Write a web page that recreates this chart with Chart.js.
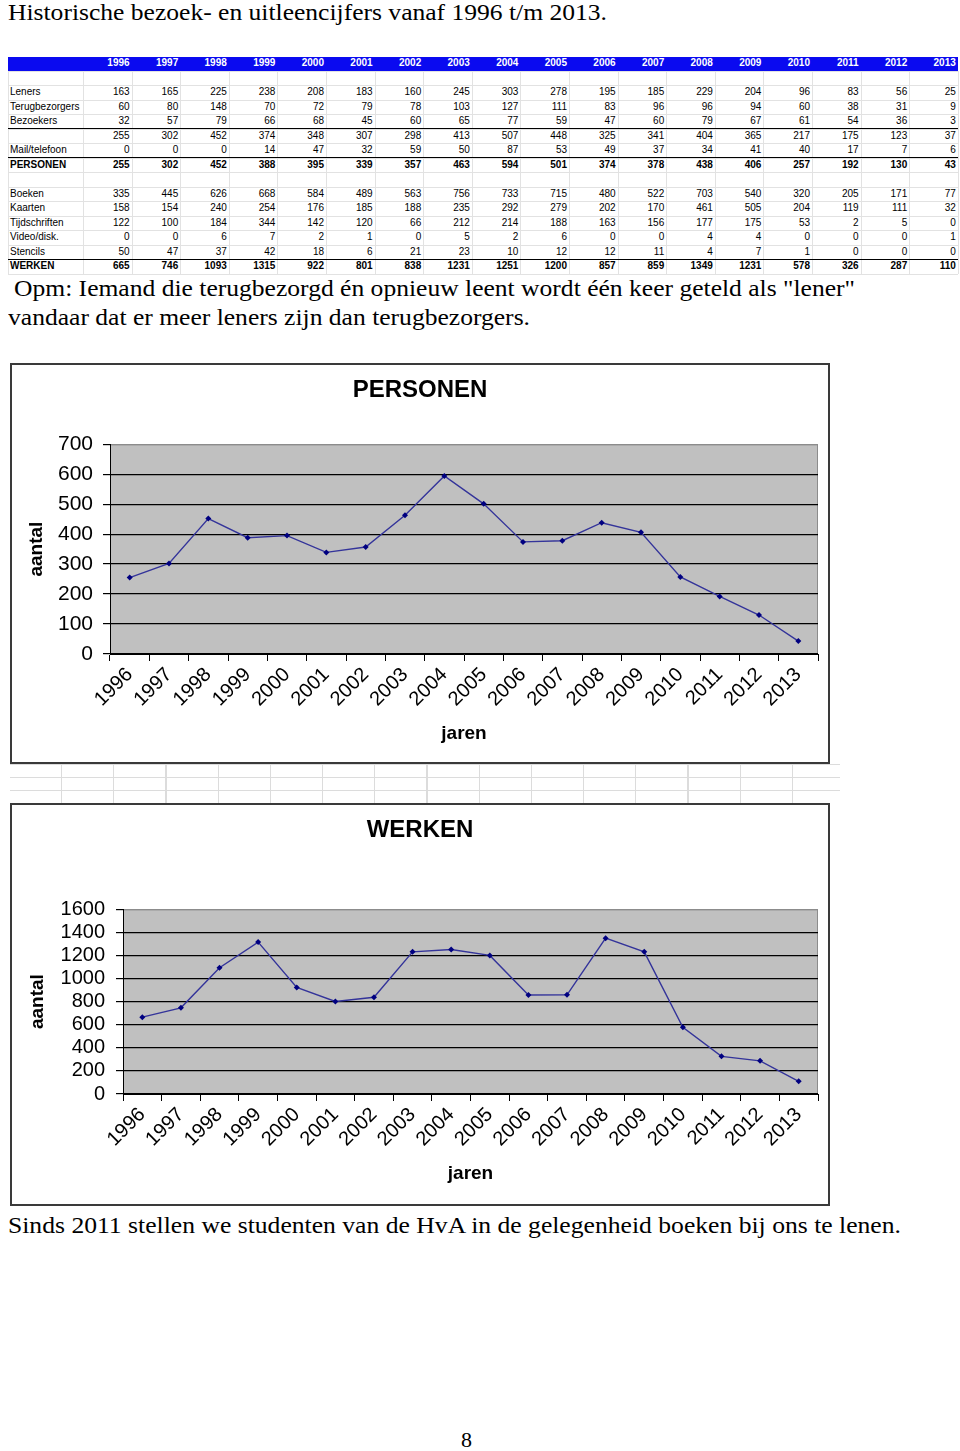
<!DOCTYPE html>
<html>
<head>
<meta charset="utf-8">
<script src="https://cdn.jsdelivr.net/npm/chart.js@4.4.1/dist/chart.umd.min.js"></script>
<style>
  body { margin: 0; width: 960px; height: 1451px; background: #fff; position: relative; overflow: hidden; }
  .serif { position: absolute; font-size: 24px; line-height: 1; white-space: nowrap; color: #000; transform-origin: 0 0; }
  .cell { position: absolute; font-size: 10px; line-height: 14.5px; height: 14.5px; white-space: nowrap; color: #000; }
  .box { position: absolute; border: 2px solid #3a3a3a; background: #fff; box-sizing: border-box; }
  #sheetGrid { position: absolute; left: 10px; top: 764px; width: 830px; height: 39px;
    background-image:
      repeating-linear-gradient(to right, transparent 0, transparent 51px, #dcdcdc 51px, #dcdcdc 52.2px),
      repeating-linear-gradient(to bottom, transparent 0, transparent 12px, #dcdcdc 12px, #dcdcdc 13px);
    background-position: 0 0, 0 1px; }
</style>
</head>
<body>
<div class="serif" style="left:8px;top:1px;font-size:23px" data-w="599">Historische bezoek- en uitleencijfers vanaf 1996 t/m 2013.</div>
<div id="table"></div>
<div class="serif" style="left:14px;top:276px" data-w="841">Opm: Iemand die terugbezorgd én opnieuw leent wordt één keer geteld als "lener"</div>
<div class="serif" style="left:8px;top:305px" data-w="522">vandaar dat er meer leners zijn dan terugbezorgers.</div>

<div id="sheetGrid"></div>
<div class="box" style="left:10px;top:363px;width:820px;height:401px"></div>
<canvas id="personenChart" width="806" height="397" style="position:absolute;left:22px;top:365px"></canvas>
<div class="box" style="left:10px;top:803px;width:820px;height:403px"></div>
<canvas id="werkenChart" width="806" height="399" style="position:absolute;left:22px;top:805px"></canvas>

<div class="serif" style="left:8px;top:1213px" data-w="893">Sinds 2011 stellen we studenten van de HvA in de gelegenheid boeken bij ons te lenen.</div>
<div class="serif" style="left:461px;top:1429px;font-size:22px">8</div>

<script>
// Jaren en cijfers uit de tabel
const years = ['1996','1997','1998','1999','2000','2001','2002','2003','2004','2005','2006','2007','2008','2009','2010','2011','2012','2013'];
const leners = [163,165,225,238,208,183,160,245,303,278,195,185,229,204,96,83,56,25];
const terugbezorgers = [60,80,148,70,72,79,78,103,127,111,83,96,96,94,60,38,31,9];
const bezoekers = [32,57,79,66,68,45,60,65,77,59,47,60,79,67,61,54,36,3];
const subtotaal = [255,302,452,374,348,307,298,413,507,448,325,341,404,365,217,175,123,37];
const mailTelefoon = [0,0,0,14,47,32,59,50,87,53,49,37,34,41,40,17,7,6];
const personen = [255,302,452,388,395,339,357,463,594,501,374,378,438,406,257,192,130,43];
const boeken = [335,445,626,668,584,489,563,756,733,715,480,522,703,540,320,205,171,77];
const kaarten = [158,154,240,254,176,185,188,235,292,279,202,170,461,505,204,119,111,32];
const tijdschriften = [122,100,184,344,142,120,66,212,214,188,163,156,177,175,53,2,5,0];
const videoDisk = [0,0,6,7,2,1,0,5,2,6,0,0,4,4,0,0,0,1];
const stencils = [50,47,37,42,18,6,21,23,10,12,12,11,4,7,1,0,0,0];
const werken = [665,746,1093,1315,922,801,838,1231,1251,1200,857,859,1349,1231,578,326,287,110];

const personenTicks = [0,100,200,300,400,500,600,700];
const werkenTicks = [0,200,400,600,800,1000,1200,1400,1600];

// pick the first installed font of a list
const pickFont = (names, generic) => {
    const ctx = document.createElement('canvas').getContext('2d');
    const probe = 'mmmmmmmmmmlliWWWwwii 1234567890';
    ctx.font = '40px monospace';
    const base = ctx.measureText(probe).width;
    for (const n of names) {
        ctx.font = `40px "${n}", monospace`;
        if (ctx.measureText(probe).width !== base) return `"${n}", ${generic}`;
    }
    return generic;
};
const serif = pickFont(['Liberation Serif', 'Times New Roman', 'Tinos', 'Nimbus Roman', 'Nimbus Roman No9 L'], 'serif');
const sans = pickFont(['Liberation Sans', 'Arial', 'Arimo', 'Helvetica', 'Nimbus Sans'], 'sans-serif');
document.querySelectorAll('.serif').forEach((el) => { el.style.fontFamily = serif; });

// Table rows: [label, values, bold]
const rows = [
    ['', years, true],
    ['', null, false],
    ['Leners', leners, false],
    ['Terugbezorgers', terugbezorgers, false],
    ['Bezoekers', bezoekers, false],
    ['', subtotaal, false],
    ['Mail/telefoon', mailTelefoon, false],
    ['PERSONEN', personen, true],
    ['', null, false],
    ['Boeken', boeken, false],
    ['Kaarten', kaarten, false],
    ['Tijdschriften', tijdschriften, false],
    ['Video/disk.', videoDisk, false],
    ['Stencils', stencils, false],
    ['WERKEN', werken, true]
];
const thickAfter = [4, 6, 13];

const table = document.getElementById('table');
const top0 = 56, rowH = 14.5, left0 = 8, labelW = 75, colW = 48.6;
const tableRight = left0 + labelW + colW * years.length;

const addDiv = (css, html, cls) => {
    const d = document.createElement('div');
    if (cls) d.className = cls;
    d.style.cssText = css;
    if (cls) d.style.fontFamily = sans;
    if (html !== undefined) d.textContent = html;
    table.appendChild(d);
    return d;
};

// header band
addDiv(`position:absolute;left:${left0}px;top:${top0 + 1}px;width:${tableRight - left0}px;height:${rowH - 1}px;background:#0a0af0;`);

// light cell grid
for (let i = 1; i <= rows.length; i++) {
    const y = top0 + i * rowH;
    addDiv(`position:absolute;left:${left0}px;top:${y}px;width:${tableRight - left0}px;height:1px;background:#e2e2e2;`);
}
for (let j = 0; j <= years.length + 1; j++) {
    const x = j === 0 ? left0 : left0 + labelW + colW * (j - 1);
    addDiv(`position:absolute;left:${x}px;top:${top0 + rowH}px;width:1px;height:${rowH * (rows.length - 1)}px;background:#e2e2e2;`);
}
thickAfter.forEach((i) => {
    addDiv(`position:absolute;left:${left0}px;top:${top0 + (i + 1) * rowH - 0.5}px;width:${tableRight - left0}px;height:1.3px;background:#000;`);
});

rows.forEach(([label, values, bold], i) => {
    const y = top0 + i * rowH;
    const weight = bold ? 'bold' : 'normal';
    const color = i === 0 ? '#fff' : '#000';
    if (label) addDiv(`left:${left0 + 2}px;top:${y}px;font-weight:${weight};color:${color};`, label, 'cell');
    if (!values) return;
    values.forEach((v, j) => {
        const right = left0 + labelW + colW * (j + 1) - 2;
        addDiv(`right:${960 - right}px;top:${y}px;font-weight:${weight};color:${color};text-align:right;`, String(v), 'cell');
    });
});

// squeeze serif lines to the widths in the scan
document.querySelectorAll('[data-w]').forEach((el) => {
    const w = el.getBoundingClientRect().width;
    el.style.transform = `scaleX(${(+el.dataset.w / w).toFixed(4)})`;
});

const plotBackground = {
    id: 'plotBackground',
    beforeDraw(chart) {
        const { ctx, chartArea: a } = chart;
        ctx.save();
        ctx.fillStyle = '#c0c0c0';
        ctx.fillRect(a.left, a.top, a.right - a.left, a.bottom - a.top);
        ctx.strokeStyle = '#8c8c8c';
        ctx.lineWidth = 1;
        ctx.beginPath();
        ctx.moveTo(a.left, a.top + 0.5);
        ctx.lineTo(a.right - 0.5, a.top + 0.5);
        ctx.lineTo(a.right - 0.5, a.bottom);
        ctx.stroke();
        ctx.restore();
    }
};

Chart.defaults.font.family = sans;
Chart.defaults.color = '#000';

const makeChart = (id, title, values, ticks, lay) => {
    const max = ticks[ticks.length - 1];
    return new Chart(document.getElementById(id), {
        type: 'line',
        data: {
            labels: years,
            datasets: [{
                data: values,
                borderColor: '#34349a',
                borderWidth: 1.4,
                backgroundColor: '#000080',
                pointStyle: 'rectRot',
                pointRadius: 3,
                pointBorderWidth: 0,
                tension: 0
            }]
        },
        options: {
            responsive: false,
            animation: false,
            layout: { padding: { right: 10, left: 0, top: 0, bottom: 0 } },
            plugins: {
                legend: { display: false },
                tooltip: { enabled: false },
                title: {
                    display: true,
                    text: title,
                    color: '#000',
                    font: { family: sans, size: 24, weight: 'bold' },
                    padding: { top: 10.6, bottom: lay.titleBottom }
                }
            },
            scales: {
                x: {
                    type: 'category',
                    offset: true,
                    afterFit: (s) => { s.height = lay.xHeight; },
                    grid: { offset: true, drawOnChartArea: false, color: '#000', tickLength: 7 },
                    border: { color: '#000', width: 1 },
                    ticks: { autoSkip: false, minRotation: 45, maxRotation: 45, padding: 2, font: { size: 20 } },
                    title: { display: true, text: 'jaren', font: { size: 19, weight: 'bold' }, padding: { top: 0, bottom: lay.xTitleBottom } }
                },
                y: {
                    min: 0,
                    max: max,
                    afterFit: (s) => { s.width = lay.yWidth; },
                    afterBuildTicks: (s) => { s.ticks = ticks.map((v) => ({ value: v })); },
                    grid: {
                        color: (c) => (c.tick && c.tick.value === max ? '#8c8c8c' : '#000'),
                        tickColor: '#000',
                        lineWidth: 1.2,
                        tickLength: 7
                    },
                    border: { color: '#000', width: 1 },
                    ticks: { autoSkip: false, padding: lay.yPad, font: { size: lay.yFont }, callback: (v) => String(v) },
                    title: { display: true, text: 'aantal', font: { size: 19, weight: 'bold' }, padding: { top: lay.yTitleTop, bottom: 0 } }
                }
            }
        },
        plugins: [plotBackground]
    });
};

makeChart('personenChart', 'PERSONEN', personen, personenTicks,
    { titleBottom: 39.8, xHeight: 108, xTitleBottom: 16.6, yWidth: 88, yPad: 10, yFont: 21, yTitleTop: 3.6 });
makeChart('werkenChart', 'WERKEN', werken, werkenTicks,
    { titleBottom: 64.8, xHeight: 110, xTitleBottom: 18.6, yWidth: 101, yPad: 11, yFont: 20, yTitleTop: 4.6 });
</script>
</body>
</html>
